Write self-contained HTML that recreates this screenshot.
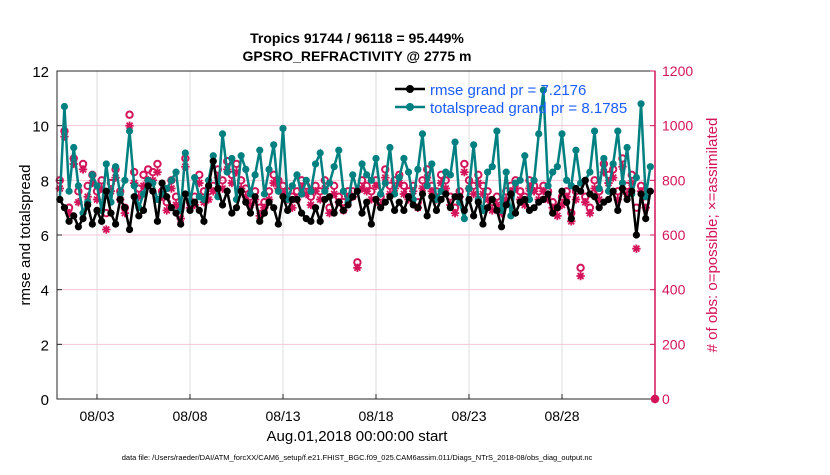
<!DOCTYPE html>
<html><head><meta charset="utf-8"><style>
body{margin:0;background:#fff;}
svg text{font-family:"Liberation Sans",sans-serif;}
</style></head><body>
<svg id="chart" width="830" height="470" xmlns="http://www.w3.org/2000/svg">
<rect width="830" height="470" fill="#fff"/>
<g id="grid"></g>
<g id="marks"></g>
<rect x="57" y="71" width="598" height="328" fill="none" stroke="#262626" stroke-width="1"/>
<g id="axes"></g>
<text x="357" y="43" text-anchor="middle" font-size="14" font-weight="bold">Tropics 91744 / 96118 = 95.449%</text>
<text x="357" y="61" text-anchor="middle" font-size="14" font-weight="bold">GPSRO_REFRACTIVITY @ 2775 m</text>
<text transform="translate(30,235) rotate(-90)" text-anchor="middle" font-size="15">rmse and totalspread</text>
<text transform="translate(717,235) rotate(-90)" text-anchor="middle" font-size="15" fill="#d4145a"># of obs: o=possible; ×=assimilated</text>
<text x="357" y="441" text-anchor="middle" font-size="15">Aug.01,2018 00:00:00 start</text>
<text x="357" y="460" text-anchor="middle" font-size="7.5">data file: /Users/raeder/DAI/ATM_forcXX/CAM6_setup/f.e21.FHIST_BGC.f09_025.CAM6assim.011/Diags_NTrS_2018-08/obs_diag_output.nc</text>
<g>
<line x1="395" y1="89" x2="425" y2="89" stroke="#000" stroke-width="2.5"/><circle cx="410" cy="89" r="4" fill="#000"/>
<text x="430" y="95" font-size="15" fill="#1a5cff">rmse grand pr = 7.2176</text>
<line x1="395" y1="107" x2="425" y2="107" stroke="#008080" stroke-width="2.5"/><circle cx="410" cy="107" r="4" fill="#008080"/>
<text x="430" y="113" font-size="15" fill="#1a5cff">totalspread grand pr = 8.1785</text>
</g>
</svg>
<script>
const xTickLabels=["08/03","08/08","08/13","08/18","08/23","08/28"];
const xTickDays=[2,7,12,17,22,27];
const leftTicks=[0,2,4,6,8,10,12];
const rightTicks=[0,200,400,600,800,1000,1200];
const rmse=[7.3,7.0,6.5,6.7,6.3,6.6,7.1,6.4, 6.9,6.5,7.6,6.8,6.4,7.3,7.0,6.2, 7.4,6.7,6.9,7.8,7.6,6.5,7.9,7.4, 7.0,6.8,6.4,7.5,6.9,7.2,6.9,6.5, 7.8,8.7,7.7,7.1,7.6,6.8,7.0,7.6, 7.2,6.8,7.4,6.5,6.8,7.2,7.0,6.4, 7.4,6.9,7.3,7.3,6.8,6.6,6.5,7.0, 6.5,7.3,7.4,6.8,7.2,6.9,7.1,7.4, 7.6,6.8,7.2,6.4,7.3,7.0,7.2,7.4, 6.9,7.2,6.9,7.4,7.1,7.0,7.5,6.7, 7.4,6.9,7.3,7.5,7.0,7.4,7.4,6.9, 7.3,6.7,7.2,6.4,7.0,7.3,6.9,6.3, 7.1,7.5,6.8,7.2,7.3,6.9,7.0,7.2, 7.3,7.5,6.8,7.0,7.6,7.2,6.6,7.7, 7.6,8.0,7.5,7.4,7.0,7.2,7.3,7.6, 6.9,7.7,7.3,7.6,6.0,7.5,6.6,7.6];
const spread=[7.3,10.7,7.6,9.2,7.8,6.8,7.2,8.2, 7.8,6.9,8.6,7.2,8.5,7.5,8.0,9.8, 7.8,7.0,7.5,8.0,7.9,7.3,7.5,7.7, 8.0,8.3,6.9,9.0,7.2,8.1,7.4,7.3, 8.0,8.9,7.4,9.7,8.3,8.8,7.3,8.9, 8.4,7.5,8.2,9.1,7.5,8.4,9.3,7.6, 9.9,7.3,7.8,8.2,7.5,8.0,7.6,8.6, 9.0,7.6,7.9,8.5,9.1,7.6,7.2,8.2, 7.6,8.6,8.2,8.0,8.8,7.5,7.9,9.2, 7.5,8.1,8.8,8.3,7.3,8.4,9.7,7.8, 8.6,7.3,7.6,8.3,8.2,9.4,7.2,6.6, 7.7,9.3,7.3,6.9,8.3,8.5,9.8,6.9, 8.3,6.7,7.9,8.0,8.9,7.3,8.0,9.7, 11.3,7.8,8.3,8.5,9.7,8.0,7.8,9.1, 7.9,8.0,8.3,9.8,7.7,8.8,7.6,8.6, 9.8,7.9,9.2,7.5,8.1,10.8,7.4,8.5];
const obsPossible=[800,980,700,880,760,860,780,820, 760,800,680,790,840,760,700,1040, 830,770,820,840,830,860,760,720, 800,740,700,880,720,740,820,760, 760,780,840,800,870,820,860,800, 770,740,760,700,720,760,820,800, 780,760,740,760,800,780,740,780, 760,800,700,780,740,720,760,760, 500,800,780,760,800,740,840,780, 800,820,780,760,780,720,800,840, 780,760,820,800,740,700,760,860, 800,780,820,780,760,720,740,700, 760,780,800,760,740,800,780,760, 780,760,720,700,740,760,680,760, 480,740,700,800,760,860,820,840, 760,880,780,820,700,780,720,0];
const obsAssim=[770,960,680,860,720,840,740,790, 730,770,620,760,810,730,680,1000, 790,740,780,800,800,830,740,690, 770,710,660,850,700,710,790,720, 730,760,810,770,840,790,830,770, 740,710,730,670,700,730,790,770, 750,730,700,730,770,750,710,760, 730,770,680,750,720,690,740,740, 480,770,760,730,780,710,810,750, 770,790,750,730,760,700,770,810, 760,730,790,770,710,680,740,830, 770,750,790,750,730,690,710,680, 730,760,770,730,710,770,760,730, 760,730,700,670,710,740,650,730, 450,720,680,770,730,830,790,810, 730,850,750,790,550,760,700,0];
const NS="http://www.w3.org/2000/svg";
const X0=57,X1=655,Y0=399,Y1=71,D0=-0.15,D1=32;
function xs(d){return X0+(d-D0)/(D1-D0)*(X1-X0);}
function yl(v){return Y0-v/12*(Y0-Y1);}
function yr(v){return Y0-v/1200*(Y0-Y1);}
function mk(tag,attrs,parent){const e=document.createElementNS(NS,tag);for(const k in attrs)e.setAttribute(k,attrs[k]);parent.appendChild(e);return e;}
const grid=document.getElementById('grid'),axes=document.getElementById('axes'),marks=document.getElementById('marks');
xTickDays.forEach((d,i)=>{
 const l=mk('line',{x1:xs(d),x2:xs(d),y1:Y1,y2:Y0,stroke:'#dcdcdc','stroke-width':1},grid);
 
 
 mk('line',{x1:xs(d),x2:xs(d),y1:Y0,y2:Y0-5,stroke:'#262626'},axes);
 const t=mk('text',{x:xs(d),y:Y0+22,'text-anchor':'middle','font-size':14},axes);
 t.textContent=xTickLabels[i];
 
 
});
rightTicks.forEach(v=>{
 if(v>0&&v<1200){const l=mk('line',{x1:X0,x2:X1,y1:yr(v),y2:yr(v),stroke:'#f5c6d8','stroke-width':1},grid);
 
 }
 mk('line',{x1:X1,x2:X1-5,y1:yr(v),y2:yr(v),stroke:'#d4145a'},axes);
 const t=mk('text',{x:X1+7,y:yr(v)+5,'font-size':14,fill:'#d4145a'},axes);
 t.textContent=v;
 
 
});
mk('line',{x1:X1,x2:X1,y1:Y1,y2:Y0,stroke:'#d4145a','stroke-width':1.5},axes);
leftTicks.forEach(v=>{
 mk('line',{x1:X0,x2:X0+5,y1:yl(v),y2:yl(v),stroke:'#262626'},axes);
 const t=mk('text',{x:X0-8,y:yl(v)+6,'text-anchor':'end','font-size':15},axes);
 t.textContent=v;
 
 
});
function day(i){return i*0.25;}
function obsX(i,v){return v===0?X1:xs(day(i));}
obsAssim.forEach((v,i)=>{
 const cx=obsX(i,v),cy=yr(v),r=4.2;
 const d=`M${cx-r},${cy}L${cx+r},${cy}M${cx},${cy-r}L${cx},${cy+r}M${cx-3},${cy-3}L${cx+3},${cy+3}M${cx-3},${cy+3}L${cx+3},${cy-3}`;
 const g=mk('path',{d:d,stroke:'#d4145a','stroke-width':1.8,fill:'none'},marks);
 
 
});
obsPossible.forEach((v,i)=>{
 const c=mk('circle',{cx:obsX(i,v),cy:yr(v),r:3.2,fill:'none',stroke:'#d4145a','stroke-width':2},marks);
 
 
});
function series(arr,color,name){
 const p=mk('polyline',{points:arr.map((v,i)=>xs(day(i))+','+yl(v)).join(' '),fill:'none',stroke:color,'stroke-width':2.5},marks);
 
 
 arr.forEach((v,i)=>{
  const c=mk('circle',{cx:xs(day(i)),cy:yl(v),r:3.6,fill:color},marks);
  
  
 });
}
series(spread,'#008080','totalspread');
series(rmse,'#000000','rmse');
</script>
</body></html>
